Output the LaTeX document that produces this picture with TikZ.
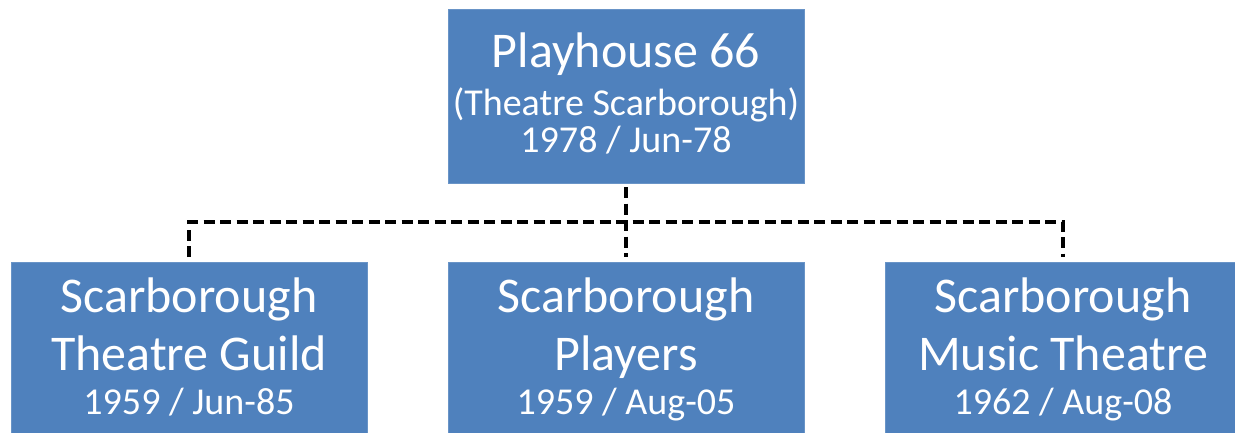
\documentclass[tikz,border=0pt]{standalone}
\usepackage{fontspec}
\setmainfont{Carlito}
\definecolor{boxblue}{HTML}{4F81BD}
\begin{document}
\begin{tikzpicture}[x=1pt,y=-1pt,
  box/.style={fill=boxblue, draw=boxblue!85!white, line width=0.8pt, minimum width=356pt, minimum height=174pt, inner sep=0pt, outer sep=0pt},
  big/.style={text=white, anchor=base, inner sep=0pt, font=\fontsize{50}{60}\selectfont},
  small/.style={text=white, anchor=base, inner sep=0pt, font=\fontsize{38}{46}\selectfont},
  conn/.style={draw=black, line width=3.5pt, dash pattern=on 11pt off 5.5pt}]
\useasboundingbox (0,0) rectangle (1235,432);
\clip (0,0) rectangle (1235,432);
\node[box] (top) at (626,96) {};
\node[box] (left) at (189,349) {};
\node[box] (mid) at (626,349) {};
\node[box] (right) at (1063,349) {};
\node[big] (topa) at (626,67) {Playhouse 66};
\node[small] (topb) at (626,115) {(Theatre Scarborough)};
\node[small] (topc) at (626,152) {1978 / Jun-78};
\node[big] (lefta) at (189,312) {Scarborough};
\node[big] (leftb) at (189,370) {Theatre Guild};
\node[small] (leftc) at (189,414) {1959 / Jun-85};
\node[big] (mida) at (626,312) {Scarborough};
\node[big] (midb) at (626,370) {Players};
\node[small] (midc) at (626,414) {1959 / Aug-05};
\node[big] (righta) at (1063,312) {Scarborough};
\node[big] (rightb) at (1063,370) {Music Theatre};
\node[small] (rightc) at (1063,414) {1962 / Aug-08};
\coordinate (bus) at (626,222);
\draw[conn, shorten <=4pt, shorten >=5pt] (top.south) -- (mid.north);
\draw[conn] ([yshift=5pt]left.north) |- (bus) -| ([yshift=5pt]right.north);
\end{tikzpicture}
\end{document}
